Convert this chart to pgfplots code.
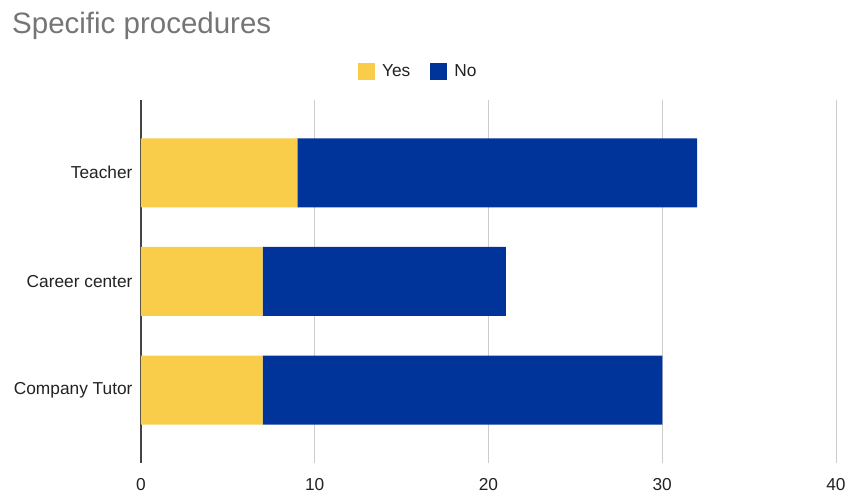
\documentclass[border=0pt]{standalone}
\usepackage{pgfplots}
\pgfplotsset{compat=1.18}
\usepackage{fontspec}
\setmainfont{Liberation Sans}
\definecolor{cyes}{HTML}{F9CC4A}
\definecolor{cno}{HTML}{00349A}
\definecolor{gridc}{HTML}{CCCCCC}
\definecolor{axisc}{HTML}{444444}
\definecolor{titlec}{HTML}{757575}
\definecolor{labc}{HTML}{222222}
\begin{document}
\begin{tikzpicture}
\path[use as bounding box] (0,0) rectangle (849pt,495pt);
\node[anchor=base west, text=titlec, font=\fontsize{29.5}{32}\selectfont, inner sep=0pt] at (12pt,461pt) {Specific procedures};
\begin{axis}[
  at={(141pt,32pt)}, anchor=south west,
  scale only axis, width=695pt, height=363pt,
  xbar stacked, bar width=69pt,
  xmin=0, xmax=40, ymin=-0.67, ymax=2.67,
  xtick={0,10,20,30,40},
  ytick={0,1,2}, yticklabels={Company Tutor,Career center,Teacher},
  major tick length=0pt,
  xmajorgrids, grid style={gridc, line width=0.8pt},
  axis line style={draw=none},
  axis x line*=bottom, axis y line*=left,
  /pgf/number format/assume math mode=true,
  ticklabel style={font=\fontsize{17.3}{19}\selectfont, text=labc},
  xticklabel style={anchor=center, yshift=-22pt},
  yticklabel style={anchor=east, xshift=-5pt},
  legend style={draw=none, at={(0.399,1.078)}, anchor=center, legend columns=-1,
    font=\fontsize{17.3}{19}\selectfont, text=labc,
    /tikz/every odd column/.append style={column sep=5pt},
    /tikz/every even column/.append style={column sep=18pt}},
  legend image code/.code={\fill[#1] (0pt,-8.5pt) rectangle (17pt,8.5pt);},
  clip=false,
]
\addplot[fill=cyes, draw=none] coordinates {(7,0) (7,1) (9,2)};
\addplot[fill=cno, draw=none] coordinates {(23,0) (14,1) (23,2)};
\legend{Yes,No}
\draw[axisc, line width=1.2pt] (axis cs:0,-0.67) -- (axis cs:0,2.67);
\end{axis}
\end{tikzpicture}
\end{document}
